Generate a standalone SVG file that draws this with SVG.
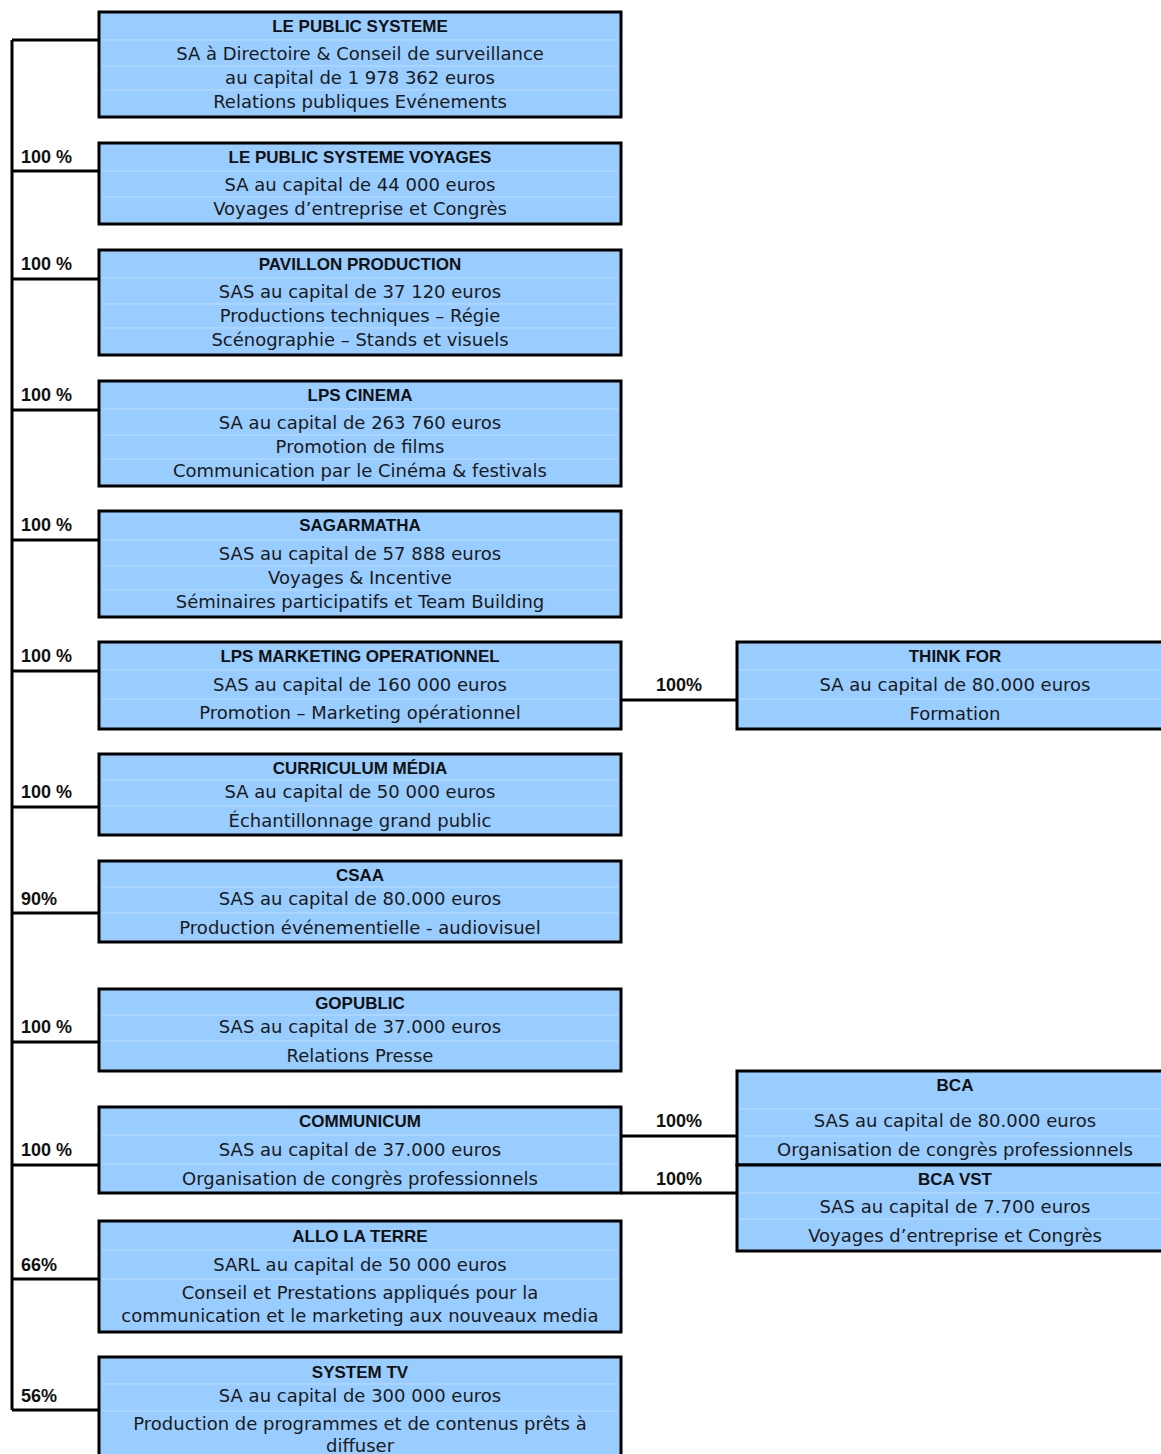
<svg xmlns="http://www.w3.org/2000/svg" width="1161" height="1454" viewBox="0 0 1161 1454">
<style>
.box{fill:#99ccff;stroke:#000;stroke-width:3}
.row{stroke:#bcdcff;stroke-width:1}
.t{font-family:"Liberation Sans",Arial,sans-serif;font-weight:bold;font-size:17px;fill:#111;text-anchor:middle}
.b{font-family:"DejaVu Sans","Liberation Sans",sans-serif;font-size:18px;fill:#1a1a1a;text-anchor:middle}
.p{font-family:"Liberation Sans",Arial,sans-serif;font-weight:bold;font-size:18px;fill:#111}
.c{stroke:#000;stroke-width:3;fill:none}
</style>
<rect width="1161" height="1454" fill="#fff"/>
<g id="connectors">
<path class="c" d="M12 40 V1410"/>
<path class="c" d="M12 40 H99 M12 171 H99 M12 279 H99 M12 410 H99 M12 540 H99 M12 671 H99 M12 807 H99 M12 913 H99 M12 1042 H99 M12 1165 H99 M12 1279 H99 M12 1410 H99"/>
<path class="c" d="M621 700 H737 M621 1136 H737 M621 1193 H737"/>
<text class="p" x="21" y="163">100 %</text>
<text class="p" x="21" y="270">100 %</text>
<text class="p" x="21" y="401">100 %</text>
<text class="p" x="21" y="531">100 %</text>
<text class="p" x="21" y="662">100 %</text>
<text class="p" x="21" y="798">100 %</text>
<text class="p" x="21" y="905">90%</text>
<text class="p" x="21" y="1033">100 %</text>
<text class="p" x="21" y="1156">100 %</text>
<text class="p" x="21" y="1271">66%</text>
<text class="p" x="21" y="1402">56%</text>
<text class="p" x="656" y="691">100%</text>
<text class="p" x="656" y="1127">100%</text>
<text class="p" x="656" y="1185">100%</text>
</g>
<g id="n1">
<rect class="box" x="99" y="12" width="522" height="105"/>
<path class="row" d="M102 40 H618 M102 66 H618 M102 90 H618"/>
<text class="t" x="360" y="32">LE PUBLIC SYSTEME</text>
<text class="b" x="360" y="60">SA à Directoire &amp; Conseil de surveillance</text>
<text class="b" x="360" y="84">au capital de 1 978 362 euros</text>
<text class="b" x="360" y="108">Relations publiques Evénements</text>
</g>
<g id="n2">
<rect class="box" x="99" y="143" width="522" height="81"/>
<path class="row" d="M102 171 H618 M102 197 H618"/>
<text class="t" x="360" y="163">LE PUBLIC SYSTEME VOYAGES</text>
<text class="b" x="360" y="191">SA au capital de 44 000 euros</text>
<text class="b" x="360" y="215">Voyages d’entreprise et Congrès</text>
</g>
<g id="n3">
<rect class="box" x="99" y="250" width="522" height="105"/>
<path class="row" d="M102 278 H618 M102 304 H618 M102 328 H618"/>
<text class="t" x="360" y="270">PAVILLON PRODUCTION</text>
<text class="b" x="360" y="298">SAS au capital de 37 120 euros</text>
<text class="b" x="360" y="322">Productions techniques – Régie</text>
<text class="b" x="360" y="346">Scénographie –  Stands et visuels</text>
</g>
<g id="n4">
<rect class="box" x="99" y="381" width="522" height="105"/>
<path class="row" d="M102 409 H618 M102 435 H618 M102 459 H618"/>
<text class="t" x="360" y="401">LPS CINEMA</text>
<text class="b" x="360" y="429">SA au capital de 263 760 euros</text>
<text class="b" x="360" y="453">Promotion de films</text>
<text class="b" x="360" y="477">Communication par le Cinéma &amp; festivals</text>
</g>
<g id="n5">
<rect class="box" x="99" y="511" width="522" height="106"/>
<path class="row" d="M102 540 H618 M102 566 H618 M102 590 H618"/>
<text class="t" x="360" y="531">SAGARMATHA</text>
<text class="b" x="360" y="560">SAS au capital de 57 888 euros</text>
<text class="b" x="360" y="584">Voyages &amp; Incentive</text>
<text class="b" x="360" y="608">Séminaires participatifs et Team Building</text>
</g>
<g id="n6">
<rect class="box" x="99" y="642" width="522" height="87"/>
<path class="row" d="M102 670 H618 M102 699 H618"/>
<text class="t" x="360" y="662">LPS MARKETING OPERATIONNEL</text>
<text class="b" x="360" y="691">SAS au capital de 160 000 euros</text>
<text class="b" x="360" y="719">Promotion – Marketing opérationnel</text>
</g>
<g id="n6a">
<rect class="box" x="737" y="642" width="440" height="87"/>
<path class="row" d="M740 670 H1161 M740 699 H1161"/>
<text class="t" x="955" y="662">THINK FOR</text>
<text class="b" x="955" y="691">SA au capital de 80.000 euros</text>
<text class="b" x="955" y="720">Formation</text>
</g>
<g id="n7">
<rect class="box" x="99" y="754" width="522" height="81"/>
<path class="row" d="M102 780 H618 M102 806 H618"/>
<text class="t" x="360" y="774">CURRICULUM MÉDIA</text>
<text class="b" x="360" y="798">SA au capital de 50 000 euros</text>
<text class="b" x="360" y="827">Échantillonnage grand public</text>
</g>
<g id="n8">
<rect class="box" x="99" y="861" width="522" height="81"/>
<path class="row" d="M102 887 H618 M102 913 H618"/>
<text class="t" x="360" y="881">CSAA</text>
<text class="b" x="360" y="905">SAS au capital de 80.000 euros</text>
<text class="b" x="360" y="934">Production événementielle - audiovisuel</text>
</g>
<g id="n9">
<rect class="box" x="99" y="989" width="522" height="82"/>
<path class="row" d="M102 1015 H618 M102 1041 H618"/>
<text class="t" x="360" y="1009">GOPUBLIC</text>
<text class="b" x="360" y="1033">SAS au capital de 37.000 euros</text>
<text class="b" x="360" y="1062">Relations Presse</text>
</g>
<g id="n10">
<rect class="box" x="99" y="1107" width="522" height="86"/>
<path class="row" d="M102 1135 H618 M102 1164 H618"/>
<text class="t" x="360" y="1127">COMMUNICUM</text>
<text class="b" x="360" y="1156">SAS au capital de 37.000 euros</text>
<text class="b" x="360" y="1185">Organisation de congrès professionnels</text>
</g>
<g id="n10a">
<rect class="box" x="737" y="1071" width="440" height="94"/>
<path class="row" d="M740 1109 H1161 M740 1136 H1161"/>
<text class="t" x="955" y="1091">BCA</text>
<text class="b" x="955" y="1127">SAS au capital de 80.000 euros</text>
<text class="b" x="955" y="1156">Organisation de congrès professionnels</text>
</g>
<g id="n10b">
<rect class="box" x="737" y="1165" width="440" height="86"/>
<path class="row" d="M740 1193 H1161 M740 1219 H1161"/>
<text class="t" x="955" y="1185">BCA VST</text>
<text class="b" x="955" y="1213">SAS au capital de 7.700 euros</text>
<text class="b" x="955" y="1242">Voyages d’entreprise et Congrès</text>
</g>
<g id="n11">
<rect class="box" x="99" y="1221" width="522" height="111"/>
<path class="row" d="M102 1250 H618 M102 1279 H618"/>
<text class="t" x="360" y="1242">ALLO LA TERRE</text>
<text class="b" x="360" y="1271">SARL au capital de 50 000 euros</text>
<text class="b" x="360" y="1299">Conseil et Prestations appliqués pour la</text>
<text class="b" x="360" y="1322">communication et le marketing aux nouveaux media</text>
</g>
<g id="n12">
<rect class="box" x="99" y="1357" width="522" height="120"/>
<path class="row" d="M102 1384 H618 M102 1411 H618"/>
<text class="t" x="360" y="1378">SYSTEM TV</text>
<text class="b" x="360" y="1402">SA au capital de 300 000 euros</text>
<text class="b" x="360" y="1430">Production de programmes et de contenus prêts à</text>
<text class="b" x="360" y="1452">diffuser</text>
</g>
</svg>
